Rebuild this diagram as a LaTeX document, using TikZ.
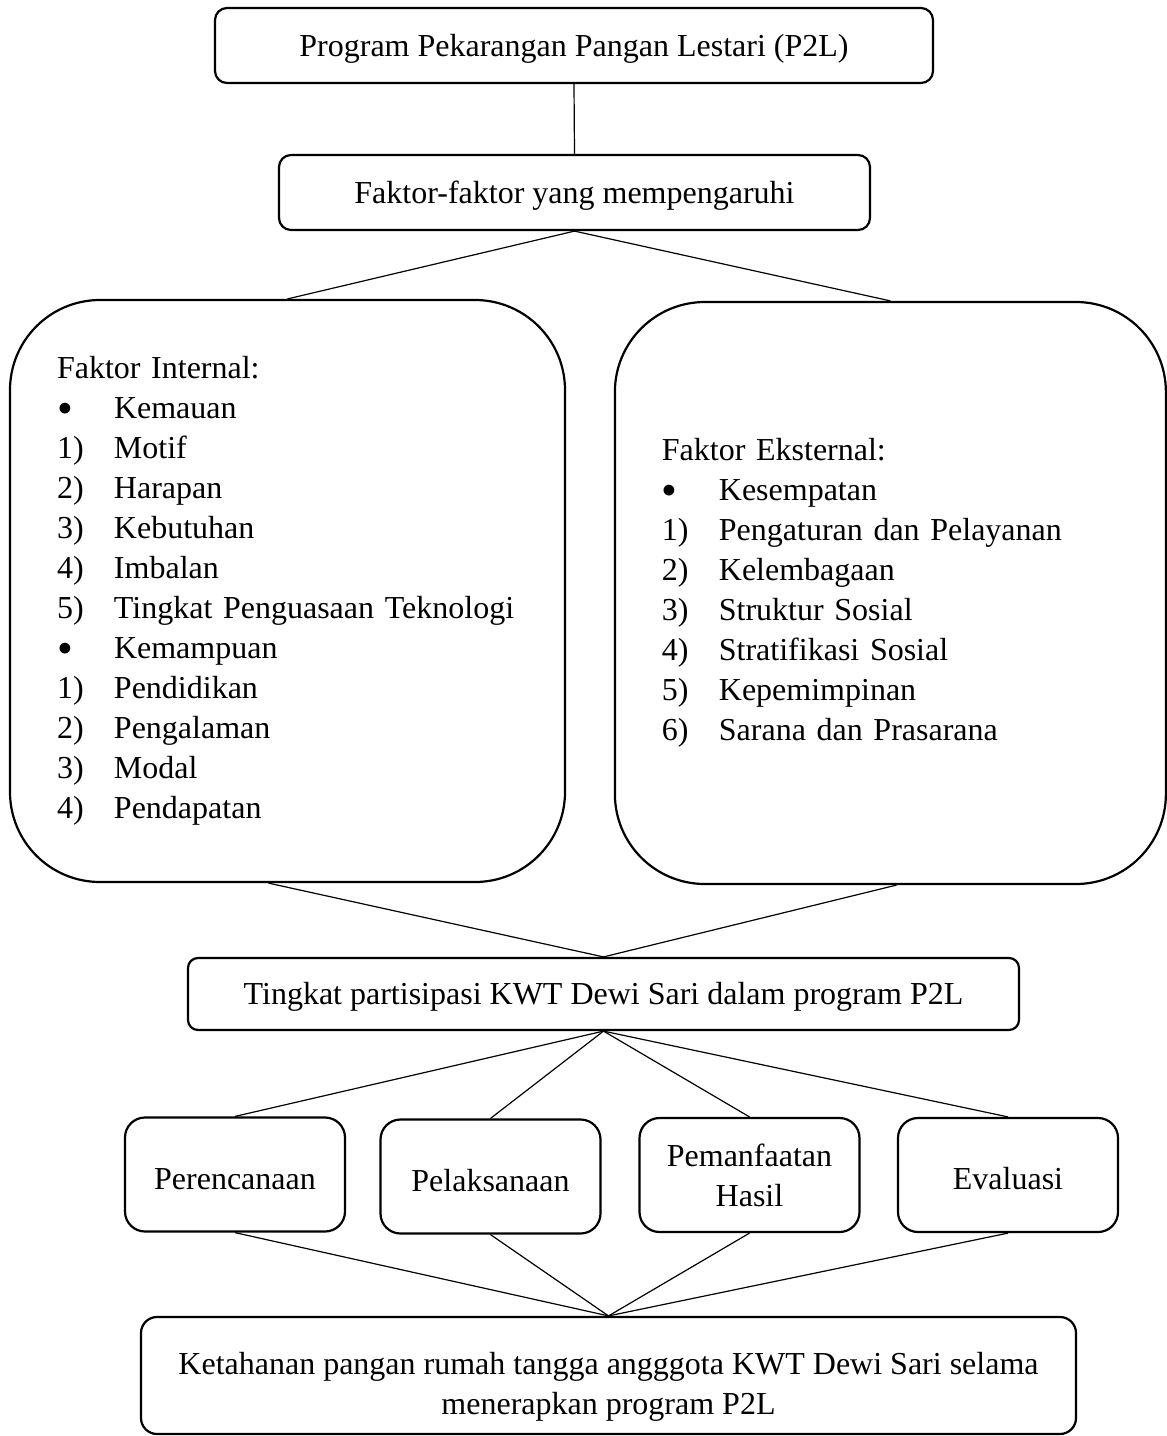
\documentclass[tikz,border=0pt]{standalone}
\usepackage{fontspec}
\setmainfont{Liberation Serif}
\newcommand{\butir}[2]{\makebox[57pt][l]{#1}#2}
\newcommand{\titik}{\raisebox{-4.5pt}{\fontsize{45}{40}\selectfont\textbullet}}

\begin{document}
\begin{tikzpicture}[x=1pt, y=-1pt,
        every node/.style = {font=\fontsize{32}{40}\selectfont, align=center, inner sep=0pt},
        kotak/.style = {draw, line width=2.2pt, rounded corners=12pt},
        kotakbesar/.style = {draw, line width=2.2pt, rounded corners=90pt, minimum height=582pt, align=left, inner xsep=47pt},
        tahap/.style = {draw, line width=2.2pt, rounded corners=20pt, minimum width=220pt, minimum height=114pt},
        garis/.style = {line width=1.2pt}]
    \useasboundingbox (0,0) rectangle (1167,1436);
    \node[kotak, minimum width=718pt, minimum height=75pt] (program) at (574,45.5) {\rule{0pt}{28pt}Program Pekarangan Pangan Lestari (P2L)};
    \node[kotak, minimum width=591pt, minimum height=75pt] (faktor) at (574.5,192.5) {\rule{0pt}{28pt}Faktor-faktor yang mempengaruhi};
    \node[kotakbesar, text width=461pt] (internal) at (287.5,591) {Faktor Internal:\\
        \butir{\titik}{Kemauan}\\
        \butir{1)}{Motif}\\
        \butir{2)}{Harapan}\\
        \butir{3)}{Kebutuhan}\\
        \butir{4)}{Imbalan}\\
        \butir{5)}{Tingkat Penguasaan Teknologi}\\
        \butir{\titik}{Kemampuan}\\
        \butir{1)}{Pendidikan}\\
        \butir{2)}{Pengalaman}\\
        \butir{3)}{Modal}\\
        \butir{4)}{Pendapatan}};
    \node[kotakbesar, text width=457pt] (eksternal) at (890.4,593) {Faktor Eksternal:\\
        \butir{\titik}{Kesempatan}\\
        \butir{1)}{Pengaturan dan Pelayanan}\\
        \butir{2)}{Kelembagaan}\\
        \butir{3)}{Struktur Sosial}\\
        \butir{4)}{Stratifikasi Sosial}\\
        \butir{5)}{Kepemimpinan}\\
        \butir{6)}{Sarana dan Prasarana}};
    \node[kotak, rounded corners=10pt, minimum width=831pt, minimum height=72pt] (partisipasi) at (603.5,994) {\rule{0pt}{28pt}Tingkat partisipasi KWT Dewi Sari dalam program P2L};
    \node[tahap] (perencanaan) at (235,1174.5) {\rule{0pt}{30pt}Perencanaan};
    \node[tahap] (pelaksanaan) at (490.5,1176.5) {\rule{0pt}{30pt}Pelaksanaan};
    \node[tahap] (pemanfaatan) at (749.5,1175) {Pemanfaatan\\Hasil};
    \node[tahap] (evaluasi) at (1008,1175) {\rule{0pt}{30pt}Evaluasi};
    \node[kotak, rounded corners=16pt, minimum width=935pt, minimum height=117pt] (ketahanan) at (608.5,1375.5) {\rule{0pt}{44pt}Ketahanan pangan rumah tangga angggota KWT Dewi Sari selama\\menerapkan program P2L};

    \draw[garis] (program.south) -- (faktor.north);
    \draw[garis] (internal.north) -- (faktor.south) -- (eksternal.north);
    \draw[garis] ([xshift=-19pt]internal.south) -- (partisipasi.north) -- ([xshift=6pt]eksternal.south);
    \foreach \t in {perencanaan, pelaksanaan, pemanfaatan, evaluasi}
        \draw[garis] (partisipasi.south) -- (\t.north) (\t.south) -- (ketahanan.north);
\end{tikzpicture}
\end{document}
